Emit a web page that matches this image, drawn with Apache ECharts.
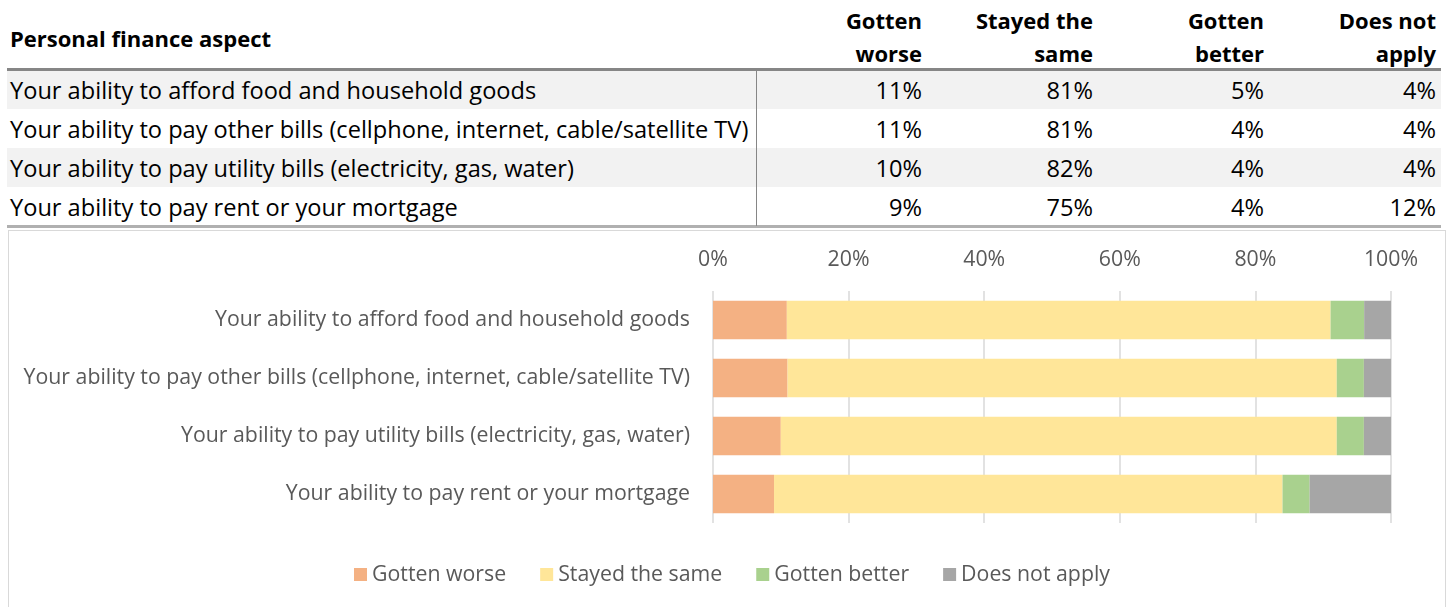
<!DOCTYPE html>
<html>
<head>
<meta charset="utf-8">
<script src="https://cdn.jsdelivr.net/npm/echarts@6/dist/echarts.min.js"></script>
<style>
  html, body { margin: 0; padding: 0; background: #fff; }
  body { width: 1455px; height: 607px; position: relative; overflow: hidden; font-family: "Open Sans", sans-serif; }
  .t { position: absolute; white-space: nowrap; color: #000; }
  .hdr { font-weight: bold; font-size: 22px; line-height: 33px; }
  .cell { font-size: 23.6px; line-height: 39px; }
  .bg { position: absolute; background: #f2f2f2; }
  .rule { position: absolute; background: #868686; }
  #chart { position: absolute; left: 8px; top: 230px; width: 1438px; height: 390px; border: 1px solid #d9d9d9; box-sizing: border-box; }
</style>
</head>
<body>
<div id="table"></div>
<div id="chart"></div>
<script>
// Survey responses per personal finance aspect (percent)
const aspects = [
  'Your ability to afford food and household goods',
  'Your ability to pay other bills (cellphone, internet, cable/satellite TV)',
  'Your ability to pay utility bills (electricity, gas, water)',
  'Your ability to pay rent or your mortgage'
];
const seriesNames = ['Gotten worse', 'Stayed the same', 'Gotten better', 'Does not apply'];
const headerLines = [['Gotten', 'worse'], ['Stayed the', 'same'], ['Gotten', 'better'], ['Does not', 'apply']];
const gottenWorse = [11, 11, 10, 9];
const stayedSame = [81, 81, 82, 75];
const gottenBetter = [5, 4, 4, 4];
const doesNotApply = [4, 4, 4, 12];
const axisTicks = ['0%', '20%', '40%', '60%', '80%', '100%'];
const colors = ['#f4b183', '#ffe699', '#a9d18e', '#a6a6a6'];

const columns = [gottenWorse, stayedSame, gottenBetter, doesNotApply];

// ---- summary table ----
const table = document.getElementById('table');
function add(cls, css, text) {
  const d = document.createElement('div');
  d.className = cls;
  Object.assign(d.style, css);
  if (text !== undefined) d.textContent = text;
  table.appendChild(d);
  return d;
}
const rowTop = 70, rowH = 39;
aspects.forEach((a, i) => {
  if (i % 2 === 0) add('bg', { left: '7px', top: (rowTop + i * rowH) + 'px', width: '1434px', height: rowH + 'px' });
});
add('rule', { left: '7px', top: '68px', width: '1434px', height: '3px' });
add('rule', { left: '7px', top: '225px', width: '1434px', height: '3px', background: '#b0b0b0' });
add('rule', { left: '756px', top: '70px', width: '1px', height: '156px' });
add('t hdr', { left: '10px', top: '22px' }, 'Personal finance aspect');
const colRight = [922, 1093, 1264, 1436];
headerLines.forEach((lines, c) => {
  lines.forEach((ln, k) => {
    add('t hdr', { right: (1455 - colRight[c]) + 'px', top: (4 + k * 33) + 'px', textAlign: 'right' }, ln);
  });
});
aspects.forEach((a, i) => {
  const top = (rowTop + 1 + i * rowH) + 'px';
  add('t cell', { left: '10px', top }, a);
  columns.forEach((col, c) => {
    add('t cell', { right: (1455 - colRight[c]) + 'px', top, textAlign: 'right' }, col[i] + '%');
  });
});

// ---- 100% stacked bar chart ----
const totals = aspects.map((_, i) => columns.reduce((s, col) => s + col[i], 0));
const chart = echarts.init(document.getElementById('chart'), null, { renderer: 'canvas' });
const textColor = '#595959';
const fs = 21.3;
chart.setOption({
  animation: false,
  textStyle: { fontFamily: '"Open Sans", sans-serif' },
  grid: { left: 704, right: 54, top: 60, bottom: 96, containLabel: false },
  xAxis: {
    type: 'value', position: 'top', min: 0, max: 100, interval: 20,
    axisLine: { show: false }, axisTick: { show: false },
    splitLine: { show: true, lineStyle: { color: '#d9d9d9', width: 1.5 } },
    axisLabel: { color: textColor, fontSize: fs, margin: 21,
      formatter: v => axisTicks[Math.round(v / 20)] }
  },
  yAxis: {
    type: 'category', inverse: true, data: aspects,
    axisLine: { show: false }, axisTick: { show: false },
    axisLabel: { color: textColor, fontSize: fs, margin: 23 }
  },
  legend: {
    top: 333, left: 345, padding: 0, itemWidth: 13, itemHeight: 13, itemGap: 34,
    icon: 'rect', textStyle: { color: textColor, fontSize: fs, padding: [0, 0, 0, 0] },
    data: seriesNames
  },
  series: seriesNames.map((name, s) => ({
    name, type: 'bar', stack: 'total', barCategoryGap: '34%',
    itemStyle: { color: colors[s] },
    data: columns[s].map((v, i) => v / totals[i] * 100)
  }))
});
</script>
</body>
</html>
